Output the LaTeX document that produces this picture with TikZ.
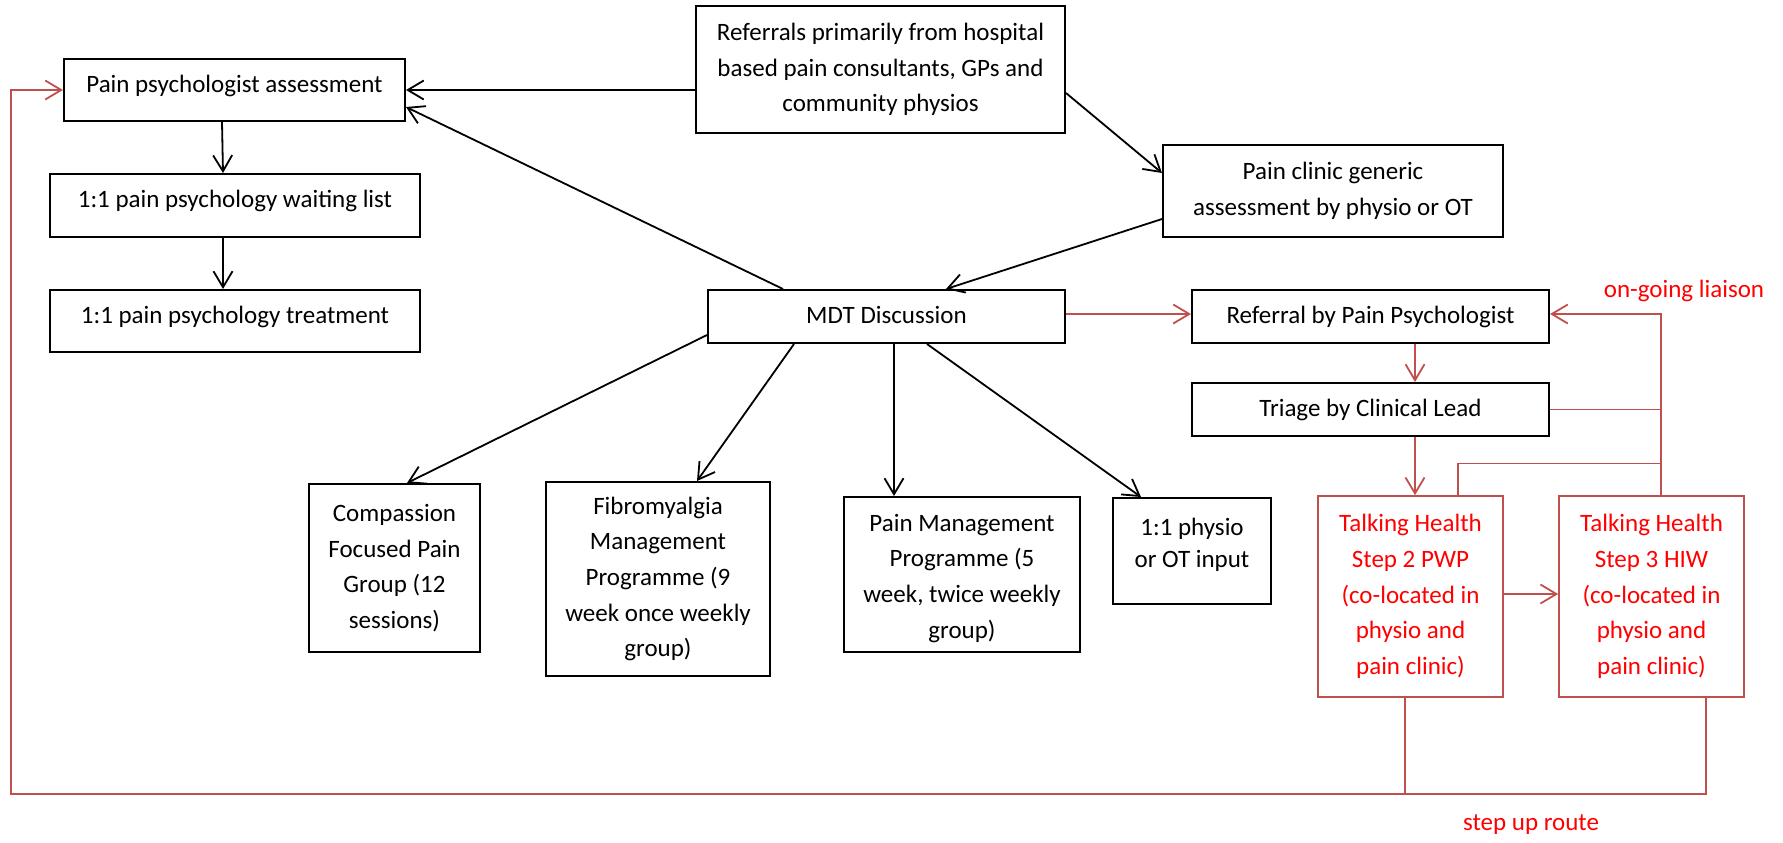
\documentclass[tikz,border=0pt]{standalone}
\usepackage{fontspec}
\setmainfont{Carlito}
\usetikzlibrary{arrows.meta,calc}
\definecolor{lred}{HTML}{C0504D}
\definecolor{tred}{HTML}{FF0000}
\newcommand\dn[1]{\rule[-#1]{0pt}{#1}}
\newcommand\tp[1]{\rule{0pt}{#1}}
\begin{document}
\begin{tikzpicture}[x=0.5pt,y=-0.5pt,
  every node/.style={font=\fontsize{12.5}{17.8}\selectfont},
  box/.style 2 args={draw=black, line width=1pt, align=center, inner sep=0pt, minimum width=#1*0.5pt, minimum height=#2*0.5pt},
  rbox/.style 2 args={box={#1}{#2}, draw=lred, text=tred, line width=0.8pt},
  conn/.style={draw=black, line width=0.9pt, -{Straight Barb[length=8pt,width=9.5pt]}},
  rconn/.style={draw=lred, line width=0.9pt, -{Straight Barb[length=8pt,width=9.5pt]}},
  rline/.style={draw=lred, line width=0.7pt},
  lbl/.style={text=tred, inner sep=0pt}
]
\useasboundingbox (0,0) rectangle (1783,842);

\node[box={341}{62}] (ppa) at (234.5,90) {Pain psychologist assessment\dn{6.5pt}};
\node[box={370}{63}] (wl) at (235,205.5) {1:1 pain psychology waiting list\dn{6.5pt}};
\node[box={370}{62}] (tr) at (235,321) {1:1 pain psychology treatment\dn{6.5pt}};
\node[box={369}{127}] (ref) at (880.5,69.5) {Referrals primarily from hospital\\based pain consultants, GPs and\\community physios};
\node[box={340}{92}] (pcg) at (1333,191) {Pain clinic generic\\assessment by physio or OT};
\node[box={357}{53}] (mdt) at (886.5,316.5) {MDT Discussion\dn{2pt}};
\node[box={357}{53}] (rpp) at (1370.5,316.5) {Referral by Pain Psychologist};
\node[box={357}{53}] (tri) at (1370.5,409.5) {Triage by Clinical Lead};
\node[box={171}{168}] (comp) at (394.5,568) {Compassion\\Focused Pain\\Group (12\\sessions)};
\node[box={224}{194}] (fib) at (658,579) {Fibromyalgia\\Management\\Programme (9\\week once weekly\\group)};
\node[box={236}{155}] (pmp) at (962,574.5) {\tp{12.4pt}Pain Management\\Programme (5\\week, twice weekly\\group)};
\node[box={158}{106}, font=\fontsize{12.5}{16}\selectfont] (phy) at (1192,551) {1:1 physio\\or OT input\dn{8pt}};
\node[rbox={185}{201}] (pwp) at (1410.5,596.5) {Talking Health\\Step 2 PWP\\(co-located in\\physio and\\pain clinic)};
\node[rbox={185}{201}] (hiw) at (1651.5,596.5) {Talking Health\\Step 3 HIW\\(co-located in\\physio and\\pain clinic)};

\node[lbl] (liaison) at (1684,291) {on-going liaison};
\node[lbl] (stepup) at (1531,825) {step up route};

% black connectors
\draw[conn] ($(ref.west)+(0,20.5)$) -- (ppa.east);
\draw[conn] ($(mdt.north west)+(76,0)$) -- ($(ppa.east)+(0,17)$);
\draw[conn] ($(ref.east)+(0,23.5)$) -- ($(pcg.west)+(0,-18)$);
\draw[conn] ($(pcg.west)+(0,28)$) -- ($(mdt.north)+(59.5,0)$);
\draw[conn] ($(ppa.south)+(-12.5,0)$) -- ($(wl.north)+(-12,0)$);
\draw[conn] ($(wl.south)+(-12,0)$) -- ($(tr.north)+(-12,0)$);
\draw[conn] ($(mdt.west)+(0,18.5)$) -- ($(comp.north)+(12.5,0)$);
\draw[conn] ($(mdt.south)+(-92.5,0)$) -- ($(fib.north)+(39,0)$);
\draw[conn] ($(mdt.south)+(7.5,0)$) -- ($(pmp.north)+(-68,0)$);
\draw[conn] ($(mdt.south)+(40.5,0)$) -- ($(phy.north)+(-51,0)$);

% red connectors
\draw[rconn] ($(mdt.east)+(0,-2.5)$) -- ($(rpp.west)+(0,-2.5)$);
\draw[rconn] ($(rpp.south)+(44.5,0)$) -- ($(tri.north)+(44.5,0)$);
\draw[rconn] ($(tri.south)+(44.5,0)$) -- ($(pwp.north)+(4.5,0)$);
\draw[rconn] ($(pwp.east)+(0,-2.5)$) -- ($(hiw.west)+(0,-2.5)$);

\coordinate (lx) at ($(hiw.north)+(9.5,0)$);
\coordinate (lj) at ($(lx)+(0,-32)$);
\draw[rconn] (lx) |- ($(rpp.east)+(0,-2.5)$);
\draw[rline] (tri.east) -- (tri.east -| lx);
\draw[rline] ($(pwp.north)+(47.5,0)$) |- (lj);

\coordinate (sb) at (11,794);
\draw[rline] ($(pwp.south)+(-5.5,0)$) -- ($(pwp.south)+(-5.5,97)$);
\draw[rconn] ($(hiw.south)+(54.5,0)$) |- (sb) |- (ppa.west);
\end{tikzpicture}
\end{document}
